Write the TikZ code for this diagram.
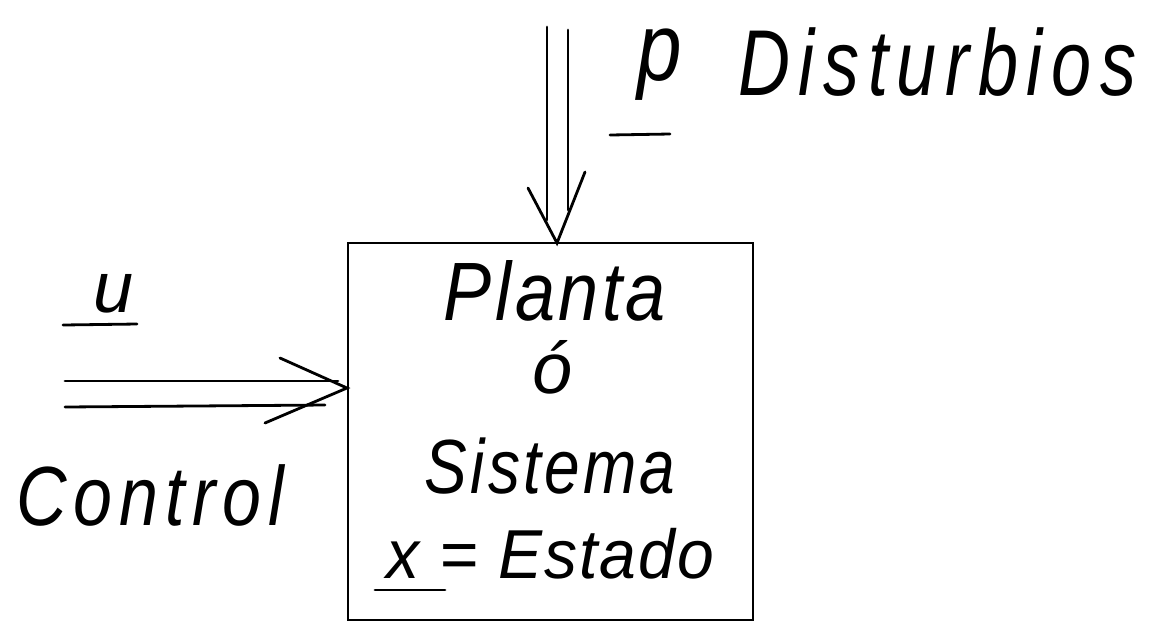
\documentclass[tikz,border=0pt]{standalone}
\usepackage{fontspec}
\newfontfamily\hand{Liberation Sans}
\usetikzlibrary{positioning}

\newcommand\hw[2]{\fontsize{#1}{#1}\selectfont\addfontfeature{LetterSpace=#2}}
\newcommand\tall[2]{\scalebox{1}[#1]{#2}}

\tikzset{
  pen/.style={line width=2.8pt, line cap=round},
  script/.style={font=\hand\itshape, anchor=base, inner sep=0pt},
}

\begin{document}
\begin{tikzpicture}[x=1pt, y=-1pt]
    \useasboundingbox (0,0) rectangle (1164,633);

    % Plant block
    \node[draw, pen, minimum width=405pt, minimum height=377pt] (planta) at (550.5,431.5) {};
    \node[script, font=\hand\itshape\hw{72}{5}] (plantaTxt) at (555,320) {\tall{1.15}{Planta}};
    \node[script, font=\hand\itshape\hw{72}{0}] (oTxt) at (553,393) {ó};
    \node[script, font=\hand\itshape\hw{64}{5}] (sistemaTxt) at (550,493) {\tall{1.2}{Sistema}};
    \node[script, font=\hand\itshape\hw{66}{3}] (estadoTxt) at (550,578) {\tall{1.05}{x = Estado}};
    \coordinate (xL) at (375,590);
    \coordinate (xR) at (445,590);
    \draw[pen] (xL) -- (xR);

    % Disturbances p
    \coordinate (pTip) at (557,243);
    \coordinate (pA) at (547,27);
    \coordinate (pB) at (568,30);
    \draw[pen] (pA) -- ++(0,193);
    \draw[pen] (pB) -- ++(0,180);
    \draw[pen] (528,188) -- (pTip) -- (585,172);
    \node[script, font=\hand\itshape\hw{80}{0}] (pTxt) at (660,80) {\tall{1.2}{p}};
    \draw[pen] (610,135) -- (670,134);
    \node[script, anchor=base west, font=\hand\itshape\hw{72}{12}] (distTxt) at (738,95) {\tall{1.3}{Disturbios}};

    % Control u
    \coordinate (uTip) at (347,388);
    \coordinate (uA) at (65,381);
    \coordinate (uB) at (65,407);
    \draw[pen] (uA) -- (338,381);
    \draw[pen] (uB) -- (325,405);
    \draw[pen] (280,358) -- (uTip) -- (265,423);
    \node[script, font=\hand\itshape\hw{72}{0}] (uTxt) at (114,312) {u};
    \draw[pen] (63,325) -- (137,324);
    \node[script, anchor=base west, font=\hand\itshape\hw{70}{10}] (ctrlTxt) at (16,525) {\tall{1.2}{Control}};
\end{tikzpicture}
\end{document}
